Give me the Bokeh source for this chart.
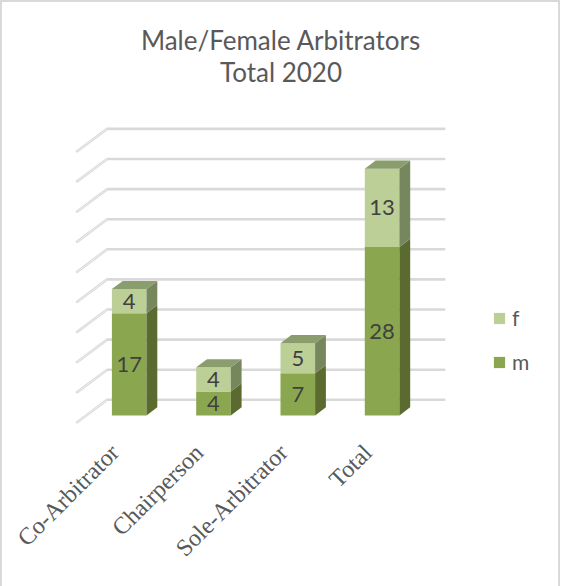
from bokeh.plotting import figure
from bokeh.embed import file_html
from bokeh.resources import INLINE
from bokeh.models import Range1d, FixedTicker, Legend, LegendItem, Label, ColumnDataSource
from bokeh.core.properties import value

categories = ["Co-Arbitrator", "Chairperson", "Sole-Arbitrator", "Total"]
m_values = [17, 4, 7, 28]
f_values = [4, 4, 5, 13]
grid_values = [0, 5, 10, 15, 20, 25, 30, 35, 40, 45]
title_lines = ["Male/Female Arbitrators", "Total 2020"]

# page pixels of the plotting frame
BORDER = 2
FRAME_L, FRAME_R, FRAME_T, FRAME_B = BORDER, 558, BORDER, 436
CAT0_PX, CAT_STEP = 128.7, 84.3   # category scale
ZERO_PX, UNIT_PX = 415.0, 6.02    # value scale
x_range = Range1d((FRAME_L - CAT0_PX) / CAT_STEP, (FRAME_R - CAT0_PX) / CAT_STEP)
y_range = Range1d((ZERO_PX - FRAME_B) / UNIT_PX, (ZERO_PX - FRAME_T) / UNIT_PX)

# pseudo-3D projection, in axis units
HALF = 17.3 / CAT_STEP
BAR_DX, BAR_DY = 10.8 / CAT_STEP, 8.2 / UNIT_PX
BACK_DY = 15.7 / UNIT_PX
CORNER_DY = -6.7 / UNIT_PX
GRID_L, GRID_B, GRID_R = -0.617, -0.261, 3.738

M_FRONT, M_SIDE = "#8aa74f", "#5b6b30"
F_FRONT, F_SIDE, F_TOP = "#bbcf96", "#76865d", "#8a9d6d"
TEXT_DARK, TEXT_MID = "#404040", "#595959"
GRID, GRID_SHINE = "#d9d9d9", "#f1f1f1"

p = figure(width=FRAME_R - FRAME_L, height=586 - BORDER, frame_width=FRAME_R - FRAME_L,
           frame_height=FRAME_B - FRAME_T, x_range=x_range, y_range=y_range,
           output_backend="svg", toolbar_location=None, y_axis_type=None,
           min_border_left=0, min_border_right=0, min_border_top=0, min_border_bottom=586 - FRAME_B)
p.styles = {"position": "absolute", "left": "0px", "top": "0px",
            "border-left": f"{BORDER}px solid #d9d9d9", "border-top": f"{BORDER}px solid #d9d9d9",
            "border-right": f"{BORDER}px solid #d9d9d9"}
p.outline_line_color = None
p.background_fill_color = "white"
p.grid.visible = False

TITLE_X = (280.5 - CAT0_PX) / CAT_STEP
for line, px_y in zip(title_lines, (39, 71)):
    p.add_layout(Label(x=TITLE_X, y=(ZERO_PX - px_y) / UNIT_PX, text=line, text_align="center",
                       text_baseline="middle", text_font="Lato", text_font_size="26px",
                       text_color=TEXT_MID))

ax = p.xaxis[0]
TICK_SHIFT = -0.17
ticks = [i + TICK_SHIFT for i in range(len(categories))]
ax.ticker = FixedTicker(ticks=ticks)
ax.major_label_overrides = {tk: c for tk, c in zip(ticks, categories)}
ax.major_label_orientation = 0.785
ax.major_label_text_font = "Liberation Serif"
ax.major_label_text_font_size = "24px"
ax.major_label_text_color = TEXT_MID
ax.major_label_standoff = 6
ax.axis_line_color = None
ax.major_tick_line_color = None
ax.minor_tick_line_color = None

for g in grid_values:
    p.line([GRID_L, GRID_B, GRID_R], [g + CORNER_DY, g + BACK_DY, g + BACK_DY],
           line_color=GRID, line_width=2.6, line_join="round", line_cap="round")
    p.line([GRID_L, GRID_B], [g + CORNER_DY, g + BACK_DY], line_color=GRID_SHINE, line_width=0.9)


def seg_patches(bottoms, heights):
    front_x, front_y, side_x, side_y, top_x, top_y = [], [], [], [], [], []
    for i, (b, h) in enumerate(zip(bottoms, heights)):
        l, r, t_ = i - HALF, i + HALF, b + h
        front_x.append([l, r, r, l]); front_y.append([b, b, t_, t_])
        side_x.append([r, r + BAR_DX, r + BAR_DX, r]); side_y.append([b, b + BAR_DY, t_ + BAR_DY, t_])
        top_x.append([l, r, r + BAR_DX, l + BAR_DX]); top_y.append([t_, t_, t_ + BAR_DY, t_ + BAR_DY])
    return front_x, front_y, side_x, side_y, top_x, top_y


zeros = [0] * len(m_values)
mf = seg_patches(zeros, m_values)
ff = seg_patches(m_values, f_values)
r_m = p.patches(mf[0], mf[1], fill_color=M_FRONT, line_color=None)
p.patches(mf[2], mf[3], fill_color=M_SIDE, line_color=None)
r_f = p.patches(ff[0], ff[1], fill_color=F_FRONT, line_color=None)
p.patches(ff[2], ff[3], fill_color=F_SIDE, line_color=None)
p.patches(ff[4], ff[5], fill_color=F_TOP, line_color=None)

label_x, label_y, label_t = [], [], []
for i in range(len(categories)):
    label_x += [i, i]
    label_y += [m_values[i] / 2, m_values[i] + f_values[i] / 2]
    label_t += [str(m_values[i]), str(f_values[i])]
p.text(x="x", y="y", text="t", source=ColumnDataSource(dict(x=label_x, y=label_y, t=label_t)),
       text_font=value("Lato"), text_font_size="22px", text_color=TEXT_DARK,
       text_align="center", text_baseline="middle")

legend = Legend(items=[LegendItem(label="f", renderers=[r_f]), LegendItem(label="m", renderers=[r_m])],
                location=(490, 62), background_fill_alpha=0, border_line_color=None,
                glyph_width=14, glyph_height=14, spacing=19, label_text_font="Lato",
                label_text_font_size="21px", label_text_color=TEXT_MID, label_standoff=6,
                margin=0, padding=0)
p.add_layout(legend)

open("out.html", "w").write(file_html(p, INLINE))
